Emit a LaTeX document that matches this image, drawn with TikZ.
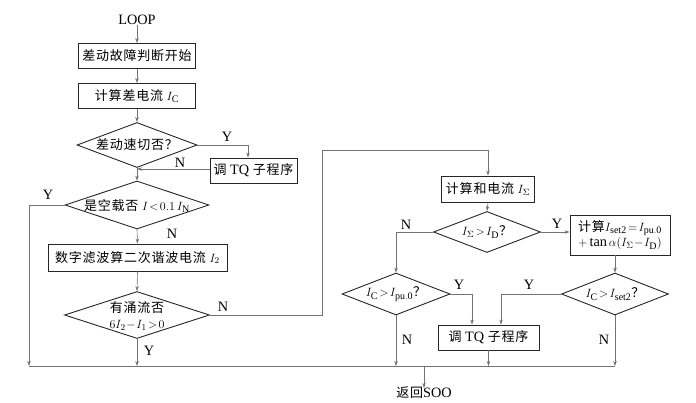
\documentclass[tikz,border=0pt]{standalone}
\usepackage{fontspec}
\setmainfont[Scale=1.1]{Liberation Serif}
\newfontfamily\cjk[LetterSpace=6]{Noto Sans CJK SC}
\usetikzlibrary{shapes.geometric,arrows.meta}
\begin{document}
\begin{tikzpicture}[x=1pt,y=-1pt, font=\fontsize{13}{15.5}\selectfont,
 box/.style={draw=black!85,line width=0.9pt,inner sep=0pt,align=center},
 dia/.style={draw=black!85,line width=0.9pt,diamond,inner sep=0pt},
 lbl/.style={inner sep=0pt},
 conn/.style={draw=black!55,line width=0.6pt},
 arr/.style={conn,-{Stealth[length=5pt,width=3.5pt]}}]
\useasboundingbox (0,0) rectangle (696,402);

% left column
\node[lbl] (loop) at (137,20) {LOOP};
\node[box,minimum width=117,minimum height=25] (b1) at (137,56) {\cjk 差动故障判断开始};
\node[box,minimum width=117,minimum height=25] (b2) at (137,96) {{\cjk 计算差电流} $I_{\mathrm C}$};
\node[dia,minimum width=120,minimum height=45] (d1) at (137,145) {};
\node[lbl] (d1t) at (d1) {\cjk 差动速切否？};
\node[box,minimum width=87,minimum height=25] (tq1) at (253.5,170.5) {{\cjk 调} TQ {\cjk 子程序}};
\node[dia,minimum width=144,minimum height=48] (d2) at (137,205) {};
\node[lbl] (d2t) at (137,206) {{\cjk 是空载否} $I\!<\!0.1\,I_{\mathrm N}$};
\node[box,minimum width=179,minimum height=27] (b3) at (137.5,257.5) {{\cjk 数字滤波算二次谐波电流} $I_2$};
\node[dia,minimum width=145,minimum height=47] (d3) at (137,315) {};
\node[lbl,align=center] (d3t) at (137,316) {{\cjk 有涌流否}\\$6I_2\!-\!I_1\!>\!0$};

% right part
\node[box,minimum width=93,minimum height=26] (bs) at (488,189) {{\cjk 计算和电流} $I_\Sigma$};
\node[dia,minimum width=107,minimum height=41] (dd) at (487,232) {};
\node[lbl] (ddt) at (dd) {$I_\Sigma\!>\!I_{\mathrm D}${\cjk ？}};
\node[box,minimum width=100,minimum height=40,align=center] (bset) at (620,235) {{\cjk 计算}$I_{\mathrm{set2}}\!=\!I_{\mathrm{pu.0}}$\\$+\tan\alpha(I_\Sigma\!-\!I_{\mathrm D})$};
\node[dia,minimum width=108,minimum height=42] (dp) at (396,294) {};
\node[lbl] (dpt) at (dp) {$I_{\mathrm C}\!>\!I_{\mathrm{pu.0}}${\cjk ？}};
\node[dia,minimum width=107,minimum height=42] (ds) at (615,294) {};
\node[lbl] (dst) at (ds) {$I_{\mathrm C}\!>\!I_{\mathrm{set2}}${\cjk ？}};
\node[box,minimum width=101,minimum height=25] (tq2) at (488.5,337.5) {{\cjk 调} TQ {\cjk 子程序}};
\node[lbl] (ret) at (424,393) {{\cjk 返回}SOO};

\coordinate (bl) at (29,366);
\coordinate (br) at (615,366);
\coordinate (rt) at (424,366);
\coordinate (up) at (322,150);

% connectors
\draw[arr] (loop) -- (b1);
\draw[arr] (b1) -- (b2);
\draw[arr] (b2) -- (d1);
\draw[arr] (d1.east) -| ([xshift=-5.5pt]tq1.north);
\draw[arr] ([yshift=1.5pt]tq1.west) -- ([yshift=1.5pt]tq1.west -| d1.south);
\draw[arr] (d1.south) -- (d2.north);
\draw[arr] (d2.west) -| (bl);
\draw[arr] (d2.south) -- (b3.north);
\draw[arr] (b3.south) -- (d3.north);
\draw[arr] (d3.south) -- (d3.south |- bl);
\draw[arr] (d3.east) -| (up) -| (bs.north);
\draw[arr] (bs.south) -- (dd.north);
\draw[arr] (dd.west) -| (dp.north);
\draw[arr] (dd.east) -- (dd.east -| bset.west);
\draw[arr] (ds.north |- bset.south) -- (ds.north);
\draw[arr] (dp.east) -| ([xshift=-16.5pt]tq2.north);
\draw[arr] (ds.west) -| ([xshift=12.5pt]tq2.north);
\draw[arr] (dp.south) -- (dp.south |- bl);
\draw[arr] (tq2.south) -- (tq2.south |- bl);
\draw[arr] (ds.south) -- (ds.south |- bl);
\draw[conn] (bl) -- (br);
\draw[arr] (rt) -- ([yshift=-1pt]ret.north);

% Y/N labels
\node[lbl] (y1) at (227,137) {Y};
\node[lbl] (n1) at (180,163) {N};
\node[lbl] (y2) at (48,195) {Y};
\node[lbl] (n2) at (172,234) {N};
\node[lbl] (n3) at (223,307) {N};
\node[lbl] (y3) at (149,351) {Y};
\node[lbl] (n4) at (406,225) {N};
\node[lbl] (y4) at (557,224) {Y};
\node[lbl] (y5) at (459,285) {Y};
\node[lbl] (y6) at (529,285) {Y};
\node[lbl] (n5) at (407,340) {N};
\node[lbl] (n6) at (604,340) {N};
\end{tikzpicture}
\end{document}
